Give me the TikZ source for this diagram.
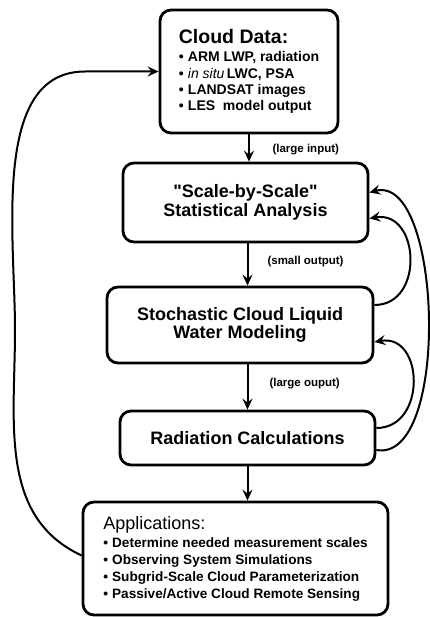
\documentclass[tikz,border=0pt]{standalone}
\usepackage{fontspec}
\setmainfont{Liberation Sans}
\usetikzlibrary{calc,arrows.meta}
\newcommand{\Lw}{2.8pt}
\newcommand{\Bul}{\textbullet\hspace{0.3em}}
\tikzset{Box/.style={
    rounded corners=11pt,
    line width=\Lw,
    draw=black,
    inner sep=0pt,
    align=center,
    font=\bfseries\fontsize{18}{18.5}\selectfont,
    }
}
\begin{document}
\begin{tikzpicture}[x=1pt,y=1pt,
    arr/.style={line width=2pt, -{Stealth[length=11pt,width=10pt,inset=4pt]}},
    lbl/.style={font=\bfseries\fontsize{11.5}{13}\selectfont, anchor=west},
]
\useasboundingbox (0,0) rectangle (430,-617);
\node [Box, minimum width=178pt, minimum height=123pt, align=left,
    font=\bfseries\fontsize{14}{16.3}\selectfont] (cloud) at (249,-71.5)
    {{\fontsize{19.5}{20}\selectfont Cloud Data:}\\[2pt]
     \Bul ARM LWP, radiation\\
     \Bul \textit{\mdseries in situ}\,LWC, PSA\\
     \Bul LANDSAT images\\
     \Bul LES\ \ model output};
\node [Box, minimum width=245pt, minimum height=79pt] (scale) at (245.5,-202.5)
    {\textquotedbl Scale-by-Scale\textquotedbl\\ Statistical Analysis};
\node [Box, minimum width=266pt, minimum height=76pt] (stoch) at (240,-325)
    {Stochastic Cloud Liquid\\ Water Modeling};
\node [Box, minimum width=255pt, minimum height=54pt] (rad) at (247.5,-438)
    {Radiation Calculations};
\node [Box, minimum width=305pt, minimum height=113pt, align=left,
    font=\bfseries\fontsize{13.6}{17}\selectfont] (app) at (235.5,-558.5)
    {{\mdseries\fontsize{18}{20}\selectfont Applications:}\\[1pt]
     \Bul Determine needed measurement scales\\
     \Bul Observing System Simulations\\
     \Bul Subgrid-Scale Cloud Parameterization\\
     \Bul Passive/Active Cloud Remote Sensing};
% down the chain
\draw [arr] (cloud.south) -- (cloud.south |- scale.north);
\draw [arr] (rad.north |- scale.south) -- (rad.north |- stoch.north);
\draw [arr] (rad.north |- stoch.south) -- (rad.north);
\draw [arr] (rad.south) -- (rad.south |- app.north);
\node [lbl] (lblin) at (269,-150) {(large input)};
\node [lbl] (lblsmall) at (264,-262) {(small output)};
\node [lbl] (lbllarge) at (266,-384) {(large ouput)};
% feedback
\draw [arr] ([yshift=20pt]stoch.east) to[out=0,in=10,looseness=1.5] ([yshift=-16pt]scale.east);
\draw [arr] ([yshift=10pt]rad.east) to[out=0,in=10,looseness=1.5] ([yshift=-17pt]stoch.east);
\draw [arr] ([yshift=-12pt]rad.east) to[out=-10,in=15,looseness=0.75] ([yshift=10pt]scale.east);
\coordinate (lw) at (15,-330);
\coordinate (lt) at (85,-71.5);
\draw [arr] ([yshift=3pt]app.west) to[out=155,in=270] (lw) to[out=90,in=180,looseness=0.9] (lt) -- (cloud.west);
\end{tikzpicture}
\end{document}
